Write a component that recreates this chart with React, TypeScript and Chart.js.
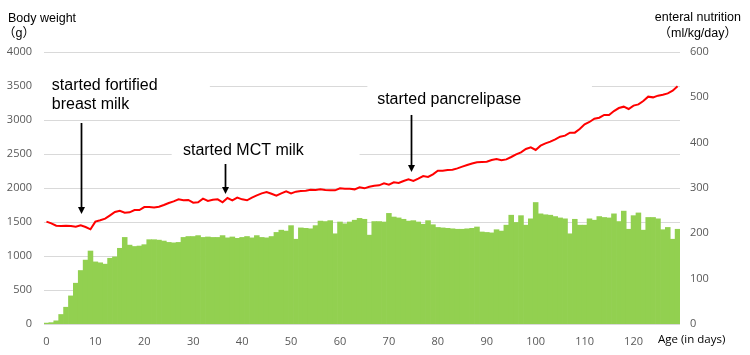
import React, { useEffect, useRef } from "react";
import { Chart, registerables } from "chart.js";

Chart.register(...registerables);

// Age in days (category axis)
const days: number[] = Array.from({ length: 130 }, (_, i) => i);
const xTickEvery = 10;

// Body weight (g), left axis
const bodyWeight: number[] = [
  1505, 1480, 1446, 1440, 1446, 1440, 1431, 1451, 1426, 1392,
  1505, 1525, 1549, 1598, 1647, 1666, 1637, 1642, 1676, 1676,
  1720, 1720, 1715, 1725, 1750, 1779, 1804, 1833, 1819, 1824,
  1784, 1789, 1843, 1809, 1828, 1833, 1789, 1853, 1819, 1858,
  1833, 1819, 1860, 1892, 1921, 1941, 1916, 1887, 1921, 1951,
  1921, 1946, 1956, 1961, 1975, 1970, 1980, 1970, 1966, 1966,
  1995, 1990, 1990, 1980, 2010, 1995, 2019, 2034, 2039, 2069,
  2049, 2083, 2073, 2103, 2127, 2103, 2137, 2176, 2162, 2201,
  2255, 2255, 2265, 2270, 2289, 2314, 2338, 2360, 2377, 2382,
  2387, 2412, 2426, 2407, 2421, 2456, 2495, 2525, 2574, 2598,
  2559, 2622, 2657, 2681, 2716, 2755, 2770, 2814, 2814, 2868,
  2936, 2971, 3019, 3034, 3074, 3074, 3132, 3176, 3196, 3162,
  3211, 3230, 3279, 3343, 3333, 3358, 3372, 3392, 3431, 3495,
];

// Enteral nutrition (ml/kg/day), right axis
const enteralNutrition: number[] = [
  2, 3, 7, 21, 37, 62, 90, 118, 141, 161,
  137, 135, 132, 145, 148, 167, 191, 174, 171, 172,
  175, 186, 186, 185, 183, 180, 179, 180, 191, 193,
  193, 195, 191, 192, 191, 191, 195, 190, 192, 189,
  191, 193, 190, 195, 191, 190, 193, 202, 207, 205,
  217, 187, 212, 211, 210, 217, 227, 226, 228, 199,
  225, 221, 225, 229, 233, 231, 196, 226, 226, 225,
  244, 236, 234, 231, 227, 228, 225, 220, 228, 219,
  213, 212, 211, 210, 209, 209, 210, 211, 214, 203,
  202, 201, 208, 205, 218, 240, 224, 239, 218, 232,
  268, 243, 241, 240, 237, 234, 232, 199, 231, 218,
  218, 232, 229, 237, 235, 234, 243, 226, 249, 209,
  239, 245, 207, 235, 235, 232, 208, 213, 187, 209,
];

const leftAxis = { min: 0, max: 4000, step: 500 };
const rightAxis = { min: 0, max: 600, step: 100 };

// Annotations: text placed in (day, weight) coordinates, arrows pointing down
const notes = [
  { lines: ["started fortified", "breast milk"], day: 1.1, weight: 3441, arrowDay: 7, arrowFrom: 2956, arrowTo: 1618,
    box: { d0: -0.6, d1: 33.4, w0: 3794, w1: 3059 } },
  { lines: ["started MCT milk"], day: 27.9, weight: 2485, arrowDay: 36.4, arrowFrom: 2353, arrowTo: 1912,
    box: { d0: 25.6, d1: 64, w0: 2706, w1: 2324 } },
  { lines: ["started pancrelipase"], day: 67.6, weight: 3235, arrowDay: 74.5, arrowFrom: 3074, arrowTo: 2235,
    box: { d0: 65.6, d1: 111.5, w0: 3676, w1: 3118 } },
];

const TICK_FONT = "'Open Sans', sans-serif";
const TEXT_FONT = "'Liberation Sans', Arial, sans-serif";
const CJK_FONT = "'Liberation Sans', 'Noto Sans CJK JP', sans-serif";

const decorPlugin = {
  id: "decor",
  beforeDatasetsDraw(chart: any) {
    const { ctx, scales } = chart;
    const x = scales.x, y = scales.y;
    ctx.save();
    ctx.fillStyle = "#ffffff";
    for (const n of notes) {
      const x0 = Math.max(x.getPixelForValue(n.box.d0), chart.chartArea.left - 2);
      const x1 = x.getPixelForValue(n.box.d1);
      const y0 = y.getPixelForValue(n.box.w0);
      const y1 = y.getPixelForValue(n.box.w1);
      ctx.fillRect(x0, y0, x1 - x0, y1 - y0);
    }
    ctx.restore();
  },
  afterDatasetsDraw(chart: any) {
    const { ctx, scales, chartArea } = chart;
    const x = scales.x, y = scales.y;
    ctx.save();
    // annotation texts
    ctx.fillStyle = "#000000";
    ctx.font = `16px ${TEXT_FONT}`;
    ctx.textAlign = "left";
    ctx.textBaseline = "alphabetic";
    for (const n of notes) {
      const tx = x.getPixelForValue(n.day);
      const ty = y.getPixelForValue(n.weight);
      n.lines.forEach((line, i) => ctx.fillText(line, tx, ty + i * 18.5));
      // arrow
      const ax = Math.round(x.getPixelForValue(n.arrowDay)) + 0.5;
      const a0 = y.getPixelForValue(n.arrowFrom);
      const a1 = y.getPixelForValue(n.arrowTo);
      ctx.strokeStyle = "#000000";
      ctx.lineWidth = 1.75;
      ctx.beginPath();
      ctx.moveTo(ax, a0);
      ctx.lineTo(ax, a1 - 5);
      ctx.stroke();
      ctx.beginPath();
      ctx.moveTo(ax - 3.5, a1 - 7);
      ctx.lineTo(ax + 3.5, a1 - 7);
      ctx.lineTo(ax, a1);
      ctx.closePath();
      ctx.fill();
    }
    // axis titles
    ctx.font = `12.5px ${TEXT_FONT}`;
    ctx.textAlign = "left";
    ctx.fillText("Body weight", 8, 22);
    ctx.font = `12.5px ${CJK_FONT}`;
    ctx.fillText("（g）", 3, 37);
    ctx.textAlign = "right";
    ctx.font = `12.5px ${TEXT_FONT}`;
    ctx.fillText("enteral nutrition", 741, 21);
    ctx.font = `12.5px ${CJK_FONT}`;
    ctx.fillText("（ml/kg/day）", 737, 37);
    // x axis title
    ctx.textAlign = "left";
    ctx.textBaseline = "middle";
    ctx.font = `11.5px ${TICK_FONT}`;
    ctx.fillText("Age (in days)", chartArea.right - 22, 340);
    ctx.restore();
  },
};

export default function App() {
  const ref = useRef<HTMLCanvasElement | null>(null);

  useEffect(() => {
    document.body.style.margin = "0";
    const canvas = ref.current;
    if (!canvas) return;
    const chart = new Chart(canvas, {
      type: "bar",
      data: {
        labels: days.map(String),
        datasets: [
          {
            type: "line",
            label: "Body weight",
            data: bodyWeight,
            yAxisID: "y",
            borderColor: "#ff0000",
            backgroundColor: "#ff0000",
            borderWidth: 2,
            pointRadius: 0,
            tension: 0,
            fill: false,
          } as any,
          {
            type: "bar",
            label: "enteral nutrition",
            data: enteralNutrition,
            yAxisID: "y1",
            backgroundColor: "#92d050",
            borderWidth: 0,
            barPercentage: 1,
            categoryPercentage: 1,
          } as any,
        ],
      },
      options: {
        animation: false,
        responsive: false,
        maintainAspectRatio: false,
        layout: { padding: { top: 52, left: 0, right: 0, bottom: 0 } },
        plugins: {
          legend: { display: false },
          tooltip: { enabled: false },
          title: { display: false },
        },
        scales: {
          x: {
            type: "category",
            offset: true,
            grid: { display: false },
            border: { display: false },
            afterFit: (s: any) => { s.height = 31; },
            ticks: {
              autoSkip: false,
              maxRotation: 0,
              minRotation: 0,
              padding: 3,
              color: "#595959",
              font: { family: TICK_FONT, size: 11 },
              callback: (_v: any, i: number) => (days[i] % xTickEvery === 0 && days[i] <= 120 ? String(days[i]) : ""),
            },
          },
          y: {
            position: "left",
            min: leftAxis.min,
            max: leftAxis.max,
            grid: { color: "#d9d9d9", lineWidth: 1, drawTicks: false },
            border: { display: false },
            afterFit: (s: any) => { s.width = 44; },
            ticks: {
              stepSize: leftAxis.step,
              padding: 12,
              color: "#595959",
              font: { family: TICK_FONT, size: 11 },
              callback: (v: any) => String(v),
            },
          },
          y1: {
            position: "right",
            min: rightAxis.min,
            max: rightAxis.max,
            grid: { display: false, drawTicks: false },
            border: { display: false },
            afterFit: (s: any) => { s.width = 70; },
            ticks: {
              stepSize: rightAxis.step,
              padding: 10,
              color: "#595959",
              font: { family: TICK_FONT, size: 11 },
              callback: (v: any) => String(v),
            },
          },
        },
      },
      plugins: [decorPlugin],
    });
    return () => chart.destroy();
  }, []);

  return (
    <div style={{ position: "absolute", left: 0, top: 0, width: 750, height: 355 }}>
      <canvas ref={ref} width={750} height={355} style={{ display: "block" }} />
    </div>
  );
}
